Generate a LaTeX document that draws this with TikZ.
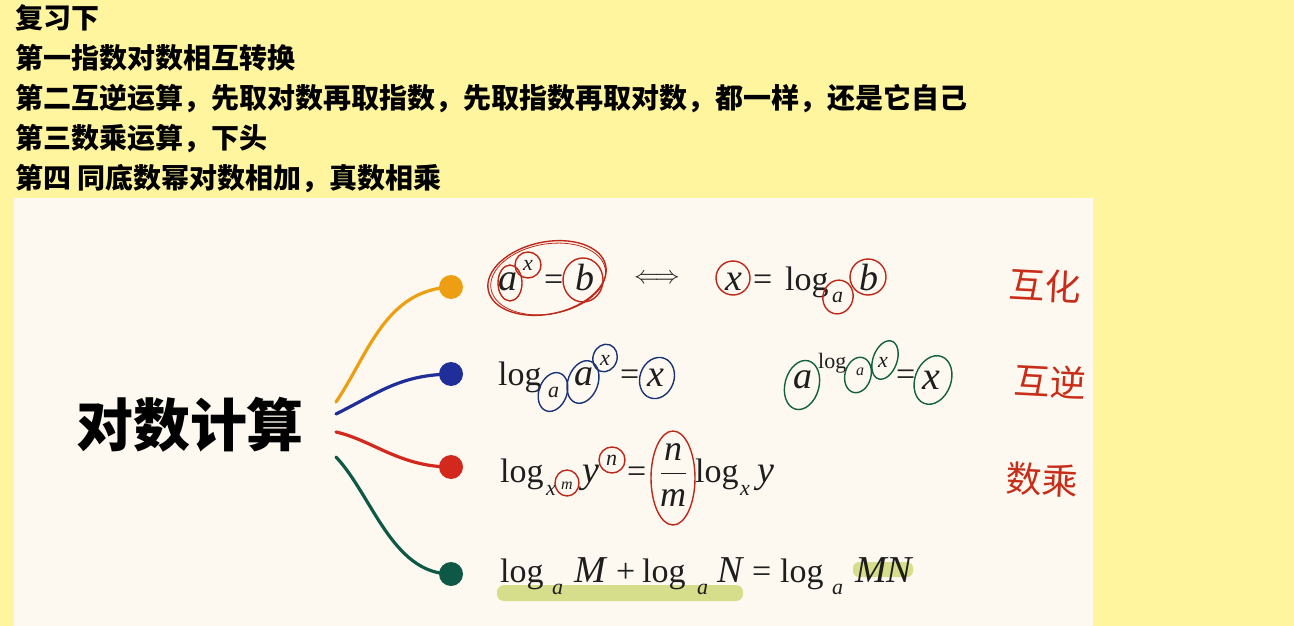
\documentclass[tikz,border=0pt]{standalone}
\usepackage{fontspec}
\newfontfamily\cjk{Noto Sans CJK SC}
\newfontfamily\fm{Liberation Serif}
\definecolor{bgyellow}{RGB}{255,245,158}
\definecolor{cream}{RGB}{254,249,240}
\definecolor{borange}{RGB}{238,158,18}
\definecolor{bblue}{RGB}{32,46,154}
\definecolor{bred}{RGB}{210,40,30}
\definecolor{bgreen}{RGB}{14,88,70}
\definecolor{cred}{RGB}{190,40,25}
\definecolor{cblue}{RGB}{25,50,120}
\definecolor{cgreen}{RGB}{18,96,62}
\definecolor{hl}{RGB}{214,222,140}
\definecolor{hand}{RGB}{200,45,25}
\definecolor{ink}{RGB}{30,30,30}
\tikzset{
  toptext/.style={anchor=base west, inner sep=0pt, font=\cjk\bfseries\fontsize{28}{28}\selectfont},
  f/.style={anchor=base west, inner sep=0pt, text=ink, font=\fm\fontsize{34}{34}\selectfont},
  fv/.style={anchor=base west, inner sep=0pt, text=ink, font=\fm\itshape\fontsize{38}{38}\selectfont},
  fs/.style={anchor=base west, inner sep=0pt, text=ink, font=\fm\fontsize{22}{22}\selectfont},
  fss/.style={anchor=base west, inner sep=0pt, text=ink, font=\fm\fontsize{16}{16}\selectfont},
  dot/.style={circle, inner sep=0pt, minimum size=24pt},
  branch/.style={line width=3.2pt, line cap=round},
  ring/.style={line width=1.4pt},
  handw/.style={inner sep=0pt, text=hand, font=\cjk\fontsize{36}{36}\selectfont}
}
\begin{document}
\begin{tikzpicture}[x=1pt,y=-1pt]
\fill[bgyellow] (0,0) rectangle (1294,626);
\useasboundingbox (0,0) rectangle (1294,626);
\fill[cream] (14,198) rectangle (1093,626);

% top text
\node[toptext] (l1) at (15,29) {复习下};
\node[toptext] (l2) at (15,68.5) {第一指数对数相互转换};
\node[toptext] (l3) at (15,108.5) {第二互逆运算，先取对数再取指数，先取指数再取对数，都一样，还是它自己};
\node[toptext] (l4) at (15,148.5) {第三数乘运算，下头};
\node[toptext] (l5) at (15,188.5) {第四 同底数幂对数相加，真数相乘};

% title
\node[inner sep=0pt, font=\cjk\bfseries\fontsize{57}{57}\selectfont] (title) at (190,425) {对数计算};

% branches
\coordinate (s1) at (336,402);
\coordinate (s2) at (336,414);
\coordinate (s3) at (336,432);
\coordinate (s4) at (336,457);
\node[dot, fill=borange] (d1) at (451,287) {};
\node[dot, fill=bblue] (d2) at (451,374) {};
\node[dot, fill=bred] (d3) at (451,467) {};
\node[dot, fill=bgreen] (d4) at (451,574) {};
\draw[branch, borange] (s1) .. controls (368,355) and (385,290) .. (d1.center);
\draw[branch, bblue] (s2) .. controls (380,392) and (400,375) .. (d2.center);
\draw[branch, bred] (s3) .. controls (372,440) and (400,467) .. (d3.center);
\draw[branch, bgreen] (s4) .. controls (372,495) and (392,574) .. (d4.center);

% row 1
\node[fv] (r1a) at (498,290) {a};
\node[fs] (r1x) at (523,270) {\itshape x};
\node[f] (r1eq) at (544,290) {=};
\node[fv] (r1b) at (575,290) {b};
\node[inner sep=0pt, text=ink, font=\fontsize{28}{28}\selectfont] (r1iff) at (657,279) {$\Longleftrightarrow$};
\node[fv] (r1x2) at (725,290) {x};
\node[f] (r1eq2) at (753,290) {=};
\node[f] (r1log) at (785,290) {log};
\node[fs] (r1sa) at (832,302) {\itshape a};
\node[fv] (r1b2) at (859,290) {b};
\draw[ring, cred] (510,283) ellipse [x radius=12pt, y radius=18pt];
\draw[ring, cred] (528,265) ellipse [x radius=13pt, y radius=13pt];
\draw[ring, cred] (583,280) ellipse [x radius=20pt, y radius=22pt];
\draw[ring, cred, rotate around={12:(547,278)}] (547,278) ellipse [x radius=60pt, y radius=36pt];
\draw[cred, line width=0.8pt, rotate around={10:(548,278)}] (548,279) ellipse [x radius=58pt, y radius=35pt];
\draw[ring, cred] (733,278) ellipse [x radius=17pt, y radius=17pt];
\draw[ring, cred, rotate around={-15:(838,297)}] (838,297) ellipse [x radius=15pt, y radius=17pt];
\draw[ring, cred] (868,277) ellipse [x radius=18pt, y radius=18pt];

% row 2
\node[f] (r2log) at (498,385) {log};
\node[fs] (r2sa) at (548,397) {\itshape a};
\node[fv] (r2a) at (574,385) {a};
\node[fs] (r2x) at (600,365) {\itshape x};
\node[f] (r2eq) at (620,385) {=};
\node[fv] (r2x2) at (647,386) {x};
\draw[ring, cblue, rotate around={-20:(553,392)}] (553,392) ellipse [x radius=14pt, y radius=20pt];
\draw[ring, cblue, rotate around={-20:(583,382)}] (583,382) ellipse [x radius=15pt, y radius=22pt];
\draw[ring, cblue, rotate around={-20:(605,358)}] (605,358) ellipse [x radius=12pt, y radius=14pt];
\draw[ring, cblue, rotate around={-20:(657,378)}] (657,378) ellipse [x radius=17pt, y radius=21pt];

\node[fv] (r2ga) at (793,388) {a};
\node[fs] (r2glog) at (818,368) {log};
\node[fss] (r2gsa) at (856,375) {\itshape a};
\node[fs] (r2gx) at (878,367) {\itshape x};
\node[f] (r2geq) at (896,385) {=};
\node[fv, font=\fm\itshape\fontsize{40}{40}\selectfont] (r2gx2) at (922,389) {x};
\draw[ring, cgreen, rotate around={-15:(802,385)}] (802,385) ellipse [x radius=17pt, y radius=25pt];
\draw[ring, cgreen, rotate around={-15:(858,375)}] (858,375) ellipse [x radius=13pt, y radius=18pt];
\draw[ring, cgreen, rotate around={-20:(885,360)}] (885,360) ellipse [x radius=12pt, y radius=20pt];
\draw[ring, cgreen, rotate around={-20:(933,380)}] (933,380) ellipse [x radius=18pt, y radius=25pt];

% row 3
\node[f] (r3log) at (500,482) {log};
\node[fs] (r3sx) at (546,495) {\itshape x};
\node[fss] (r3sm) at (561,489) {\itshape m};
\node[fv] (r3y) at (582,482) {y};
\node[fs] (r3n) at (606,465) {\itshape n};
\node[f] (r3eq) at (627,482) {=};
\node[inner sep=0pt, text=ink, font=\fm\itshape\fontsize{36}{36}\selectfont] (r3fn) at (673,452) {n};
\node[inner sep=0pt, text=ink, font=\fm\itshape\fontsize{36}{36}\selectfont] (r3fm) at (673,498) {m};
\draw[ink, line width=1pt] (661,473) -- (686,473);
\node[f] (r3log2) at (695,482) {log};
\node[fs] (r3sx2) at (740,495) {\itshape x};
\node[fv] (r3y2) at (757,482) {y};
\draw[ring, cred] (567,483) ellipse [x radius=12pt, y radius=13pt];
\draw[ring, cred] (612,460) ellipse [x radius=13pt, y radius=13pt];
\draw[ring, cred] (673,478) ellipse [x radius=22pt, y radius=47pt];

% row 4
\fill[hl, rounded corners=7pt] (497,585) rectangle (743,601);
\fill[hl, rounded corners=6pt] (853,562) rectangle (913,577);
\node[f] (r4log) at (500,582) {log};
\node[fs] (r4sa) at (552,594) {\itshape a};
\node[fv] (r4M) at (574,582) {M};
\node[f] (r4plus) at (616,582) {+};
\node[f] (r4log2) at (642,582) {log};
\node[fs] (r4sa2) at (697,594) {\itshape a};
\node[fv] (r4N) at (717,582) {N};
\node[f] (r4eq) at (752,582) {=};
\node[f] (r4log3) at (780,582) {log};
\node[fs] (r4sa3) at (832,594) {\itshape a};
\node[fv] (r4MN) at (855,582) {MN};

% handwritten notes
\node[handw, rotate=-3] (h1) at (1045,286) {互化};
\node[handw, rotate=-3] (h2) at (1050,382) {互逆};
\node[handw, rotate=-3] (h3) at (1042,480) {数乘};
\end{tikzpicture}
\end{document}
